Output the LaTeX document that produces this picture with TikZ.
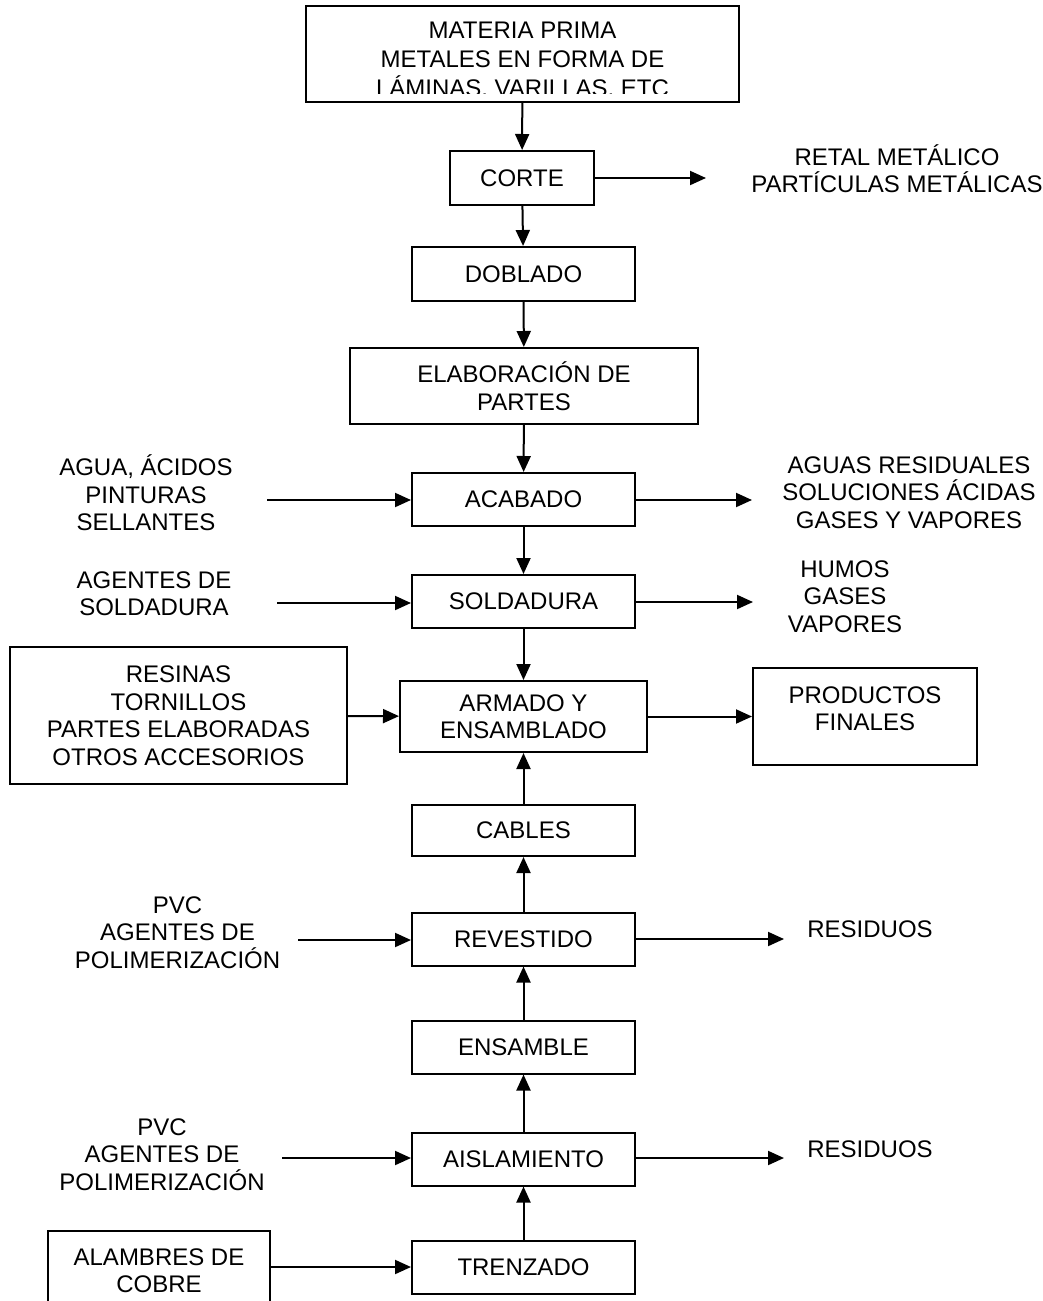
\documentclass[tikz,border=0pt]{standalone}
\usepackage{fontspec}
\setmainfont{Liberation Sans}
\usetikzlibrary{arrows.meta,positioning}

\begin{document}
\begin{tikzpicture}[
    x=1pt, y=-1pt,
    every node/.style={font=\fontsize{24}{27.5}\selectfont, inner sep=0pt},
    proc/.style={rectangle,draw,line width=2pt,minimum width=223pt,minimum height=53pt},
    side/.style={rectangle,draw,line width=2pt,align=center},
    note/.style={align=center},
    flow/.style={line width=2pt,-{Triangle[length=16pt,width=14pt]}}
  ]
    \useasboundingbox (0,0) rectangle (1043,1301);

    % Materia prima (third line is cut off)
    \node[side, minimum width=433pt, minimum height=96pt] (mp) at (522.5,54) {};
    \begin{scope}
      \clip (306,6) rectangle (739,93);
      \node[note, font=\fontsize{24}{29}\selectfont] (mp-txt) at (522.5,61) {MATERIA PRIMA\\METALES EN FORMA DE\\LÁMINAS, VARILLAS, ETC};
    \end{scope}

    % Metal line
    \node[proc, minimum width=144pt, minimum height=54pt] (corte) at (522,178) {CORTE};
    \node[proc, minimum height=54pt] (doblado) at (523.5,274) {DOBLADO};
    \node[proc, align=center, minimum width=348pt, minimum height=76pt] (elab) at (524,386) {ELABORACIÓN DE\\PARTES};
    \node[proc] (acabado) at (523.5,499.5) {ACABADO};
    \node[proc] (soldadura) at (523.5,601.5) {SOLDADURA};
    \node[proc, align=center, minimum width=247pt, minimum height=71pt] (armado) at (523.5,716.5) {ARMADO Y\\ENSAMBLADO};

    \draw[flow] (mp) -- (corte);
    \draw[flow] (corte) -- (doblado);
    \draw[flow] (doblado) -- (elab);
    \draw[flow] (elab) -- (acabado);
    \draw[flow] (acabado) -- (soldadura);
    \draw[flow] (soldadura) -- (armado);

    % Cable line
    \node[proc, minimum height=51pt] (cables) at (523.5,830.5) {CABLES};
    \node[proc] (revestido) at (523.5,939) {REVESTIDO};
    \node[proc] (ensamble) at (523.5,1047) {ENSAMBLE};
    \node[proc] (aisla) at (523.5,1159) {AISLAMIENTO};
    \node[proc] (trenzado) at (523.5,1267) {TRENZADO};

    \draw[flow] (trenzado) -- (aisla);
    \draw[flow] (aisla) -- (ensamble);
    \draw[flow] (ensamble) -- (revestido);
    \draw[flow] (revestido) -- (cables);
    \draw[flow] (cables) -- (armado);

    % Inputs
    \node[note] (in-aca) at (146,493) {AGUA, ÁCIDOS\\PINTURAS\\SELLANTES};
    \node[note] (in-sol) at (154,593.5) {AGENTES DE\\SOLDADURA};
    \node[side, minimum width=337pt, minimum height=137pt] (resinas) at (178.5,715.5) {RESINAS\\TORNILLOS\\PARTES ELABORADAS\\OTROS ACCESORIOS};
    \node[note] (in-rev) at (177.5,932.5) {PVC\\AGENTES DE\\POLIMERIZACIÓN};
    \node[note] (in-ais) at (162,1154.5) {PVC\\AGENTES DE\\POLIMERIZACIÓN};
    \node[side, minimum width=222pt, minimum height=79pt] (alambres) at (159,1270.5) {ALAMBRES DE\\COBRE};

    \coordinate (aca-in) at (267,500);
    \coordinate (sol-in) at (277,603);
    \coordinate (rev-in) at (298,940);
    \coordinate (ais-in) at (282,1158);
    \draw[flow] (aca-in) -- (aca-in -| acabado.west);
    \draw[flow] (sol-in) -- (sol-in -| soldadura.west);
    \draw[flow] (resinas) -- (armado);
    \draw[flow] (rev-in) -- (rev-in -| revestido.west);
    \draw[flow] (ais-in) -- (ais-in -| aisla.west);
    \draw[flow] (alambres.east |- trenzado) -- (trenzado);

    % Outputs
    \node[note] (out-cor) at (897,168.5) {RETAL METÁLICO\\PARTÍCULAS METÁLICAS};
    \node[note] (out-aca) at (909,492.5) {AGUAS RESIDUALES\\SOLUCIONES ÁCIDAS\\GASES Y VAPORES};
    \node[note] (out-sol) at (845,596.5) {HUMOS\\GASES\\VAPORES};
    \node[side, minimum width=224pt, minimum height=97pt, text depth=16pt] (productos) at (865,716.5) {PRODUCTOS\\FINALES};
    \node[note] (out-rev) at (870,929) {RESIDUOS};
    \node[note] (out-ais) at (870,1149) {RESIDUOS};

    \coordinate (cor-out) at (706,178);
    \coordinate (aca-out) at (752,500);
    \coordinate (sol-out) at (753,602);
    \coordinate (rev-out) at (784,939);
    \coordinate (ais-out) at (784,1158);
    \draw[flow] (corte.east |- cor-out) -- (cor-out);
    \draw[flow] (acabado.east |- aca-out) -- (aca-out);
    \draw[flow] (soldadura.east |- sol-out) -- (sol-out);
    \draw[flow] (armado) -- (productos);
    \draw[flow] (revestido.east |- rev-out) -- (rev-out);
    \draw[flow] (aisla.east |- ais-out) -- (ais-out);

\end{tikzpicture}
\end{document}
